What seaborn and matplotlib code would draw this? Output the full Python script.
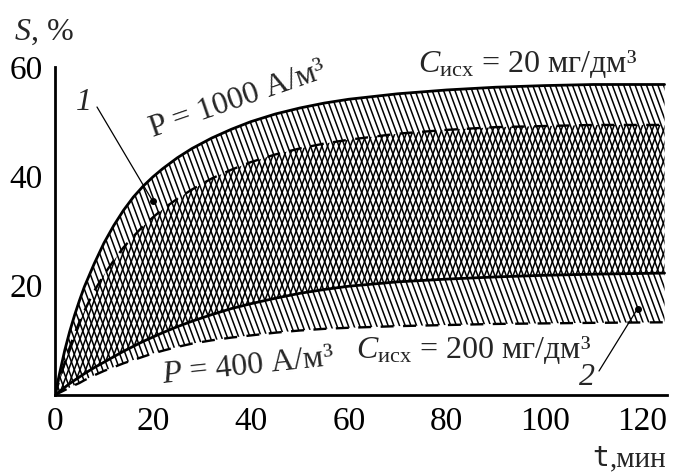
import numpy as np
import pandas as pd
import matplotlib
matplotlib.use("Agg")
import matplotlib.pyplot as plt
from matplotlib.collections import LineCollection
import seaborn as sns

# ---- data ----
t_min = [0, 1, 2, 3, 4, 5, 6, 8, 10, 12, 14, 16, 18, 20, 22, 25, 28, 32, 36, 40,
         45, 50, 55, 60, 70, 80, 90, 100, 110, 124.5]
s_p1000_c20 = [0, 4.2, 8.2, 11.6, 14.6, 17.3, 19.8, 24.0, 27.8, 31.0, 33.8, 36.2, 38.2, 39.9,
               41.4, 43.4, 45.1, 47.0, 48.6, 50.0, 51.4, 52.5, 53.4, 54.1, 55.1, 55.8, 56.3,
               56.6, 56.8, 56.8]
s_p1000_c200 = [0, 3.0, 6.0, 8.7, 11.2, 13.4, 15.4, 19.0, 22.0, 24.6, 27.0, 29.0, 30.9, 32.5,
                34.0, 35.9, 37.6, 39.6, 41.2, 42.6, 44.0, 45.1, 46.0, 46.7, 47.8, 48.5, 49.0,
                49.2, 49.4, 49.4]
s_p400_c20 = [0, 0.7, 1.4, 2.1, 2.7, 3.3, 3.9, 5.0, 6.0, 7.0, 8.0, 8.9, 9.8, 10.6, 11.4, 12.5,
              13.5, 14.7, 15.8, 16.7, 17.7, 18.6, 19.3, 19.9, 20.7, 21.2, 21.6, 21.9, 22.1, 22.3]
s_p400_c200 = [0, 0.45, 0.9, 1.35, 1.8, 2.2, 2.7, 3.6, 4.4, 5.1, 5.8, 6.4, 7.0, 7.6, 8.1, 8.8,
               9.4, 10.0, 10.5, 10.9, 11.4, 11.8, 12.1, 12.3, 12.6, 12.8, 13.0, 13.1, 13.2, 13.3]

x_ticks = [0, 20, 40, 60, 80, 100, 120]
y_ticks = [0, 20, 40, 60]
y_tick_labels = ["", "20", "40", "60"]

callout1 = (20, 35.4)
callout2 = (119, 15.8)

df = pd.DataFrame({"t": t_min, "a": s_p1000_c20, "b": s_p1000_c200,
                   "c": s_p400_c20, "d": s_p400_c200})

sns.set_theme(style="white")
plt.rcParams["font.family"] = ["Liberation Serif", "DejaVu Sans"]
plt.rcParams["mathtext.fontset"] = "custom"
plt.rcParams["mathtext.rm"] = "Liberation Serif"
plt.rcParams["mathtext.it"] = "Liberation Serif:italic"

W, H = 674, 474
fig = plt.figure(figsize=(W / 100, H / 100), dpi=100)
ax = fig.add_axes([55 / W, (H - 395) / H, 612 / W, 328 / H])
ax.set_xlim(0, 125)
ax.set_ylim(0, 60)

# ---- hatched bands (steep hatch, clipped to band polygons) ----
def hatch_band(lower, upper, direction):
    poly = ax.fill_between(df["t"], lower, upper, facecolor="none", edgecolor="none")
    path = poly.get_paths()[0]
    step = 0.0093
    shift = 0.198
    segs = []
    for x0 in np.arange(-0.3, 1.3, step):
        if direction == "\\":
            segs.append([(x0, 1.0), (x0 + shift, 0.0)])
        else:
            segs.append([(x0, 0.0), (x0 + shift, 1.0)])
    lc = LineCollection(segs, colors="black", linewidths=1.1, transform=ax.transAxes)
    ax.add_collection(lc)
    lc.set_clip_path(path, ax.transData)

hatch_band(df["d"], df["a"], "\\")
hatch_band(df["c"], df["b"], "/")

# ---- curves ----
sns.lineplot(data=df, x="t", y="a", ax=ax, color="black", linewidth=2.0)
sns.lineplot(data=df, x="t", y="c", ax=ax, color="black", linewidth=2.0)
sns.lineplot(data=df, x="t", y="b", ax=ax, color="black", linewidth=1.7,
             linestyle=(0, (5.5, 4.0)))
sns.lineplot(data=df, x="t", y="d", ax=ax, color="black", linewidth=1.7,
             linestyle=(0, (5.5, 4.0)))

ax.set_xlabel("")
ax.set_ylabel("")
ax.set_xticks(x_ticks)
ax.set_yticks(y_ticks)
ax.set_yticklabels(y_tick_labels)
ax.tick_params(length=0, labelsize=24, colors="black")
ax.tick_params(axis="x", pad=8)
ax.tick_params(axis="y", pad=9)
sns.despine(ax=ax)
for sp in ["left", "bottom"]:
    ax.spines[sp].set_linewidth(2.0)
    ax.spines[sp].set_color("black")

def fp(x, y):
    return (x, H - y)

fs = 23
# axis titles
fig.text(14 / W, 1 - 40 / H, "$S$, %", fontsize=fs, ha="left", va="baseline")
fig.text(592 / W, 1 - 466 / H, "t", fontsize=20, family="DejaVu Sans Mono",
         ha="left", va="baseline")
fig.text(610 / W, 1 - 466 / H, ",мин", fontsize=21, ha="left", va="baseline")

# curve annotations
fig.text(153 / W, 1 - 137 / H, "P = 1000 А/м³", fontsize=fs, rotation=19,
         rotation_mode="anchor", ha="left", va="baseline")
fig.text(163 / W, 1 - 383 / H, "$P$ = 400 А/м³", fontsize=fs, rotation=6,
         rotation_mode="anchor", ha="left", va="baseline")
fig.text(418 / W, 1 - 72 / H, "$C_{\\mathrm{исх}}$ = 20 мг/дм³", fontsize=fs,
         ha="left", va="baseline")
fig.text(356 / W, 1 - 358 / H, "$C_{\\mathrm{исх}}$ = 200 мг/дм³", fontsize=fs,
         ha="left", va="baseline")

# callouts
fig.text(84 / W, 1 - 110 / H, "1", fontsize=fs, style="italic", ha="center", va="baseline")
fig.text(587 / W, 1 - 385 / H, "2", fontsize=fs, style="italic", ha="center", va="baseline")
ax.annotate("", xy=callout1, xycoords="data", xytext=fp(97, 107), textcoords="figure pixels",
            arrowprops=dict(arrowstyle="-", lw=0.9, color="black", shrinkA=0, shrinkB=0))
ax.annotate("", xy=callout2, xycoords="data", xytext=fp(599, 371), textcoords="figure pixels",
            arrowprops=dict(arrowstyle="-", lw=0.9, color="black", shrinkA=0, shrinkB=0))
ax.plot([callout1[0], callout2[0]], [callout1[1], callout2[1]], linestyle="none",
        marker="o", markersize=4, color="black")

fig.savefig("out.png", dpi=100)
